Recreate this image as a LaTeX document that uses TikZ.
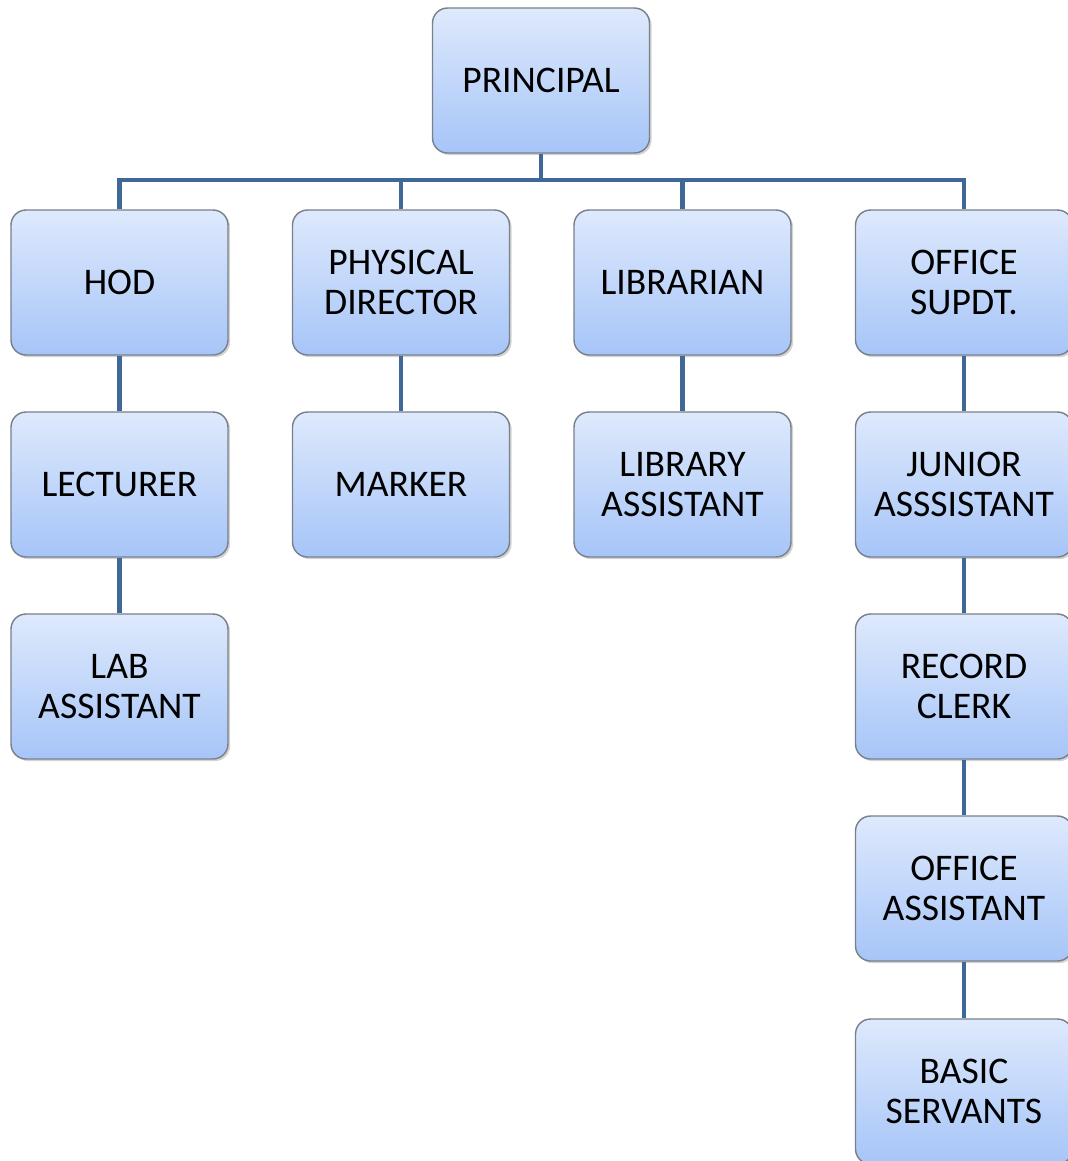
\documentclass[tikz,border=0pt]{standalone}
\usepackage{fontspec}
\setmainfont{Carlito}
\usetikzlibrary{shadows}

\definecolor{boxtop}{RGB}{222,233,252}
\definecolor{boxbot}{RGB}{166,197,248}
\definecolor{boxline}{RGB}{120,128,140}
\definecolor{linkcol}{RGB}{63,104,151}

\tikzset{
  post/.style={draw=boxline, line width=0.8pt, rounded corners=0.3cm,
    top color=boxtop, bottom color=boxbot,
    minimum width=4.34cm, minimum height=2.9cm, align=center,
    font=\fontsize{21.4}{22.8}\selectfont,
    drop shadow={opacity=0.35, shadow xshift=1.2pt, shadow yshift=-1.2pt}},
  link/.style={draw=linkcol, line width=2.8pt}
}

\begin{document}
\begin{tikzpicture}[x=0.02cm, y=-0.02cm]
\useasboundingbox (0,0) rectangle (1068,1161);

\coordinate (bus) at (541,180);

% Top post
\node[post] (prin) at (541,80.5) {PRINCIPAL};

% First row
\node[post] (hod) at (119.5,282.5) {HOD};
\node[post] (pd) at (401,282.5) {PHYSICAL\\DIRECTOR};
\node[post] (lib) at (682.5,282.5) {LIBRARIAN};
\node[post] (os) at (964,282.5) {OFFICE\\SUPDT.};

% Below HOD
\node[post] (lect) at (119.5,484.5) {LECTURER};
\node[post] (lab) at (119.5,686.5) {LAB\\ASSISTANT};

% Below physical director and librarian
\node[post] (mark) at (401,484.5) {MARKER};
\node[post] (libasst) at (682.5,484.5) {LIBRARY\\ASSISTANT};

% Office staff
\node[post] (jr) at (964,484.5) {JUNIOR\\ASSSISTANT};
\node[post] (rec) at (964,686.5) {RECORD\\CLERK};
\node[post] (offasst) at (964,888.5) {OFFICE\\ASSISTANT};
\node[post] (basic) at (964,1091.5) {BASIC\\SERVANTS};

% Draw the links
\draw[link] (prin.south) -- (prin.south |- bus);
\draw[link] (hod.north) -- (hod.north |- bus) -- (os.north |- bus) -- (os.north);
\foreach \b in {pd,lib} {
    \draw[link] (\b.north) -- (\b.north |- bus);
}
\foreach \a/\b in {hod/lect, lect/lab, pd/mark, lib/libasst, os/jr, jr/rec, rec/offasst, offasst/basic} {
    \draw[link] (\a.south) -- (\b.north);
}

\end{tikzpicture}
\end{document}
